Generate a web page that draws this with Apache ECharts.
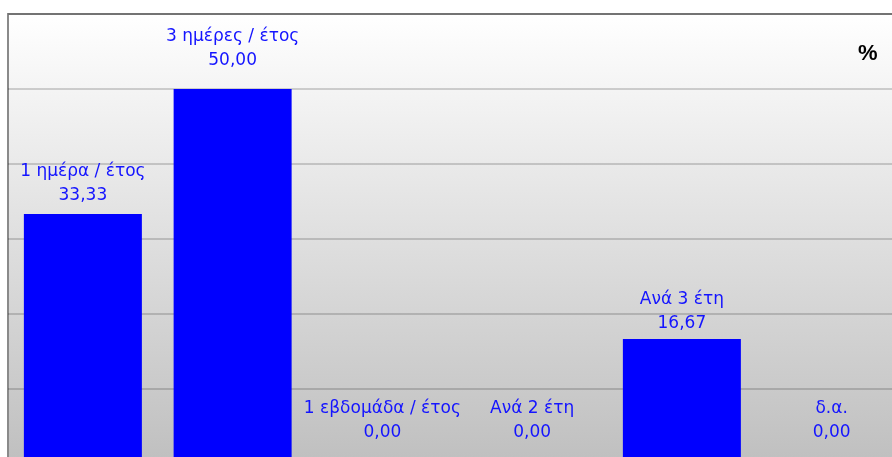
<!DOCTYPE html>
<html>
<head>
<meta charset="utf-8">
<script src="https://cdn.jsdelivr.net/npm/echarts@6/dist/echarts.min.js"></script>
<style>
html,body{margin:0;padding:0;background:#fff;}
#chart{width:892px;height:457px;}
</style>
</head>
<body>
<div id="chart"></div>
<script>
const categories = ['1 ημέρα / έτος', '3 ημέρες / έτος', '1 εβδομάδα / έτος', 'Ανά 2 έτη', 'Ανά 3 έτη', 'δ.α.'];
const values = [33.33, 50.00, 0.00, 0.00, 16.67, 0.00];
const yTicks = { min: 0, max: 60, interval: 10 };
const unitLabel = '%';

const labelDistances = [6, 16, 19, 19, 3, 19];

const chart = echarts.init(document.getElementById('chart'));
const option = {
  animation: false,
  backgroundColor: '#ffffff',
  title: {
    text: unitLabel,
    left: 853,
    top: 38,
    textStyle: { fontFamily: 'Liberation Sans, Arial, sans-serif', fontSize: 22, fontWeight: 'bold', color: '#000' }
  },
  grid: {
    left: 8,
    top: 14,
    right: -14.5,
    bottom: -7,
    containLabel: false,
    outerBoundsMode: 'none',
    show: true,
    borderColor: '#8a8a8a',
    borderWidth: 2,
    backgroundColor: new echarts.graphic.LinearGradient(0, 0, 0, 1, [
      { offset: 0, color: '#ffffff' },
      { offset: 1, color: '#bfbfbf' }
    ])
  },
  xAxis: {
    type: 'category',
    data: categories,
    axisLine: { show: false },
    axisTick: { show: false },
    axisLabel: { show: false },
    splitLine: { show: false }
  },
  yAxis: {
    type: 'value',
    min: yTicks.min,
    max: yTicks.max,
    interval: yTicks.interval,
    axisLine: { show: false },
    axisTick: { show: false },
    axisLabel: { show: false },
    splitLine: { show: true, lineStyle: { color: 'rgba(0,0,0,0.22)', width: 1.5 } }
  },
  series: [{
    type: 'bar',
    barWidth: 118,
    itemStyle: { color: '#0000ff' },
    data: values.map((v, i) => ({
      value: v,
      label: { distance: labelDistances[i] }
    })),
    label: {
      show: true,
      position: 'top',
      color: '#1414ff',
      fontFamily: 'DejaVu Sans, sans-serif',
      fontSize: 17,
      lineHeight: 24,
      align: 'center',
      formatter: p => p.name + '\n' + p.value.toFixed(2).replace('.', ',')
    }
  }]
};
chart.setOption(option);
</script>
</body>
</html>
